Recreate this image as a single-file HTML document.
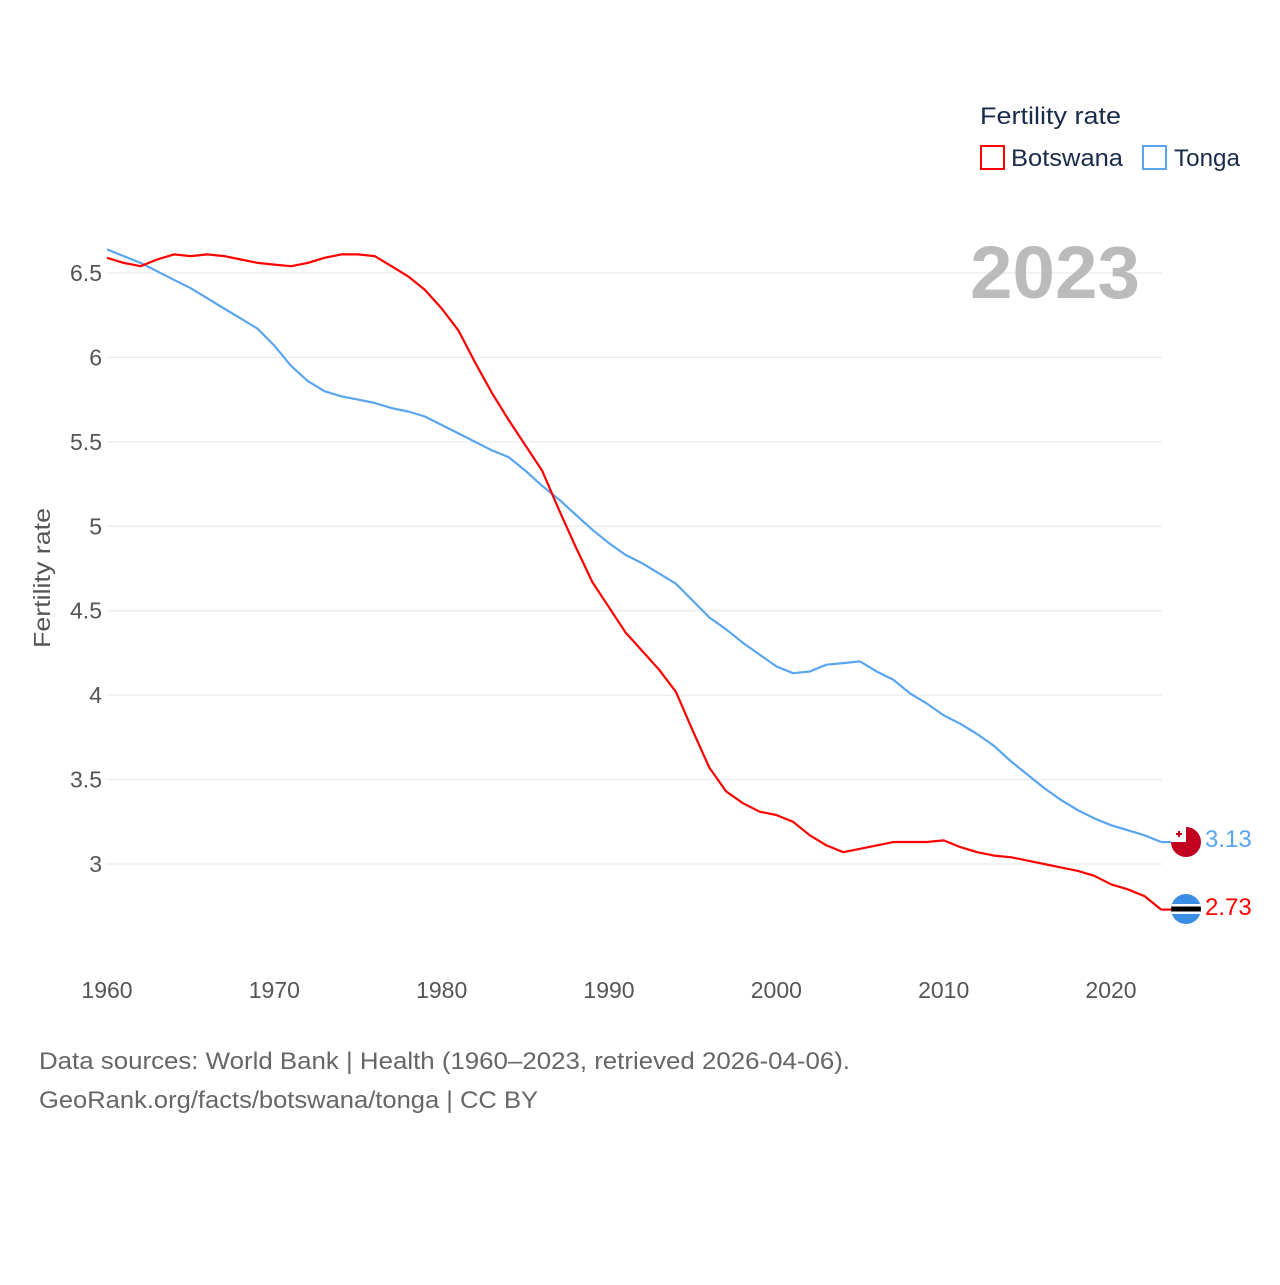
<!DOCTYPE html>
<html><head><meta charset="utf-8">
<style>
body{margin:0;background:#fff;font-family:"Liberation Sans",sans-serif;}
svg text{font-family:"Liberation Sans",sans-serif;}
</style></head>
<body>
<svg id="chart" width="1280" height="1280" viewBox="0 0 1280 1280" xmlns="http://www.w3.org/2000/svg">
<rect width="1280" height="1280" fill="#fff"/>
<g id="grid"></g>
<g id="yticks"></g>
<g id="xticks"></g>
<text transform="translate(50,578) rotate(-90)" text-anchor="middle" font-size="23" fill="#555" textLength="140" lengthAdjust="spacingAndGlyphs">Fertility rate</text>
<text x="1140" y="298" text-anchor="end" font-size="74" font-weight="bold" fill="#bbb" textLength="170" lengthAdjust="spacingAndGlyphs">2023</text>
<text x="980" y="124" font-size="24" fill="#1a2b4a" textLength="141" lengthAdjust="spacingAndGlyphs">Fertility rate</text>
<g>
<rect x="981" y="146" width="23" height="23" fill="none" stroke="#f00" stroke-width="2"/>
<text x="1011" y="166" font-size="24" fill="#1a2b4a" textLength="112" lengthAdjust="spacingAndGlyphs">Botswana</text></g>
<g>
<rect x="1143" y="146" width="23" height="23" fill="none" stroke="#5aa5ef" stroke-width="2"/>
<text x="1174" y="166" font-size="24" fill="#1a2b4a" textLength="66" lengthAdjust="spacingAndGlyphs">Tonga</text></g>
<g id="series"></g>
<g>
<circle cx="1186" cy="842" r="15" fill="#c10020"/>
<rect x="1171" y="827" width="15" height="15" fill="#fff"/>
<rect x="1176" y="833" width="6" height="2" fill="#c10020"/><rect x="1178" y="831" width="2" height="6" fill="#c10020"/>
</g>
<g>
<clipPath id="bc"><circle cx="1186" cy="909" r="15"/></clipPath>
<g clip-path="url(#bc)"><rect x="1170" y="893" width="32" height="32" fill="#3a8ee6"/>
<rect x="1170" y="904" width="32" height="10" fill="#fff"/><rect x="1170" y="906.5" width="32" height="5" fill="#000"/></g>
</g>
<text id="lblT" x="1205" y="847" font-size="24" fill="#5aa5ef">3.13</text>
<text id="lblB" x="1205" y="915" font-size="24" fill="#f00">2.73</text>
<text x="39" y="1069" font-size="24" fill="#666" textLength="811" lengthAdjust="spacingAndGlyphs">Data sources: World Bank | Health (1960–2023, retrieved 2026-04-06).</text>
<text x="39" y="1108" font-size="24" fill="#666" textLength="499" lengthAdjust="spacingAndGlyphs">GeoRank.org/facts/botswana/tonga | CC BY</text>
</svg>
<script>
const years=[];for(let y=1960;y<=2023;y++)years.push(y);
const botswana=[6.59,6.56,6.54,6.58,6.61,6.60,6.61,6.60,6.58,6.56,6.55,6.54,6.56,6.59,6.61,6.61,6.60,6.54,6.48,6.40,6.29,6.16,5.97,5.79,5.63,5.48,5.33,5.10,4.88,4.67,4.52,4.37,4.26,4.15,4.02,3.79,3.57,3.43,3.36,3.31,3.29,3.25,3.17,3.11,3.07,3.09,3.11,3.13,3.13,3.13,3.14,3.10,3.07,3.05,3.04,3.02,3.00,2.98,2.96,2.93,2.88,2.85,2.81,2.73];
const tonga=[6.64,6.60,6.56,6.51,6.46,6.41,6.35,6.29,6.23,6.17,6.07,5.95,5.86,5.80,5.77,5.75,5.73,5.70,5.68,5.65,5.60,5.55,5.50,5.45,5.41,5.33,5.24,5.16,5.07,4.98,4.90,4.83,4.78,4.72,4.66,4.56,4.46,4.39,4.31,4.24,4.17,4.13,4.14,4.18,4.19,4.20,4.14,4.09,4.01,3.95,3.88,3.83,3.77,3.70,3.61,3.53,3.45,3.38,3.32,3.27,3.23,3.20,3.17,3.13];
const yTicks=[3,3.5,4,4.5,5,5.5,6,6.5];
const yTickLabels=["3","3.5","4","4.5","5","5.5","6","6.5"];
const xTicks=[1960,1970,1980,1990,2000,2010,2020];
const NS="http://www.w3.org/2000/svg";
const xs=y=>107+(y-1960)*(1111-107)/60;
const ys=v=>864-(v-3)*(864-273)/3.5;
function mk(t,a,p){const e=document.createElementNS(NS,t);for(const k in a)e.setAttribute(k,a[k]);p.appendChild(e);return e;}
const grid=document.getElementById('grid'),yt=document.getElementById('yticks'),xt=document.getElementById('xticks'),ser=document.getElementById('series');
yTicks.forEach((v,i)=>{
 const l=mk('line',{x1:107,x2:1162,y1:ys(v),y2:ys(v),stroke:'#e6e6e6','stroke-width':1},grid);
 
 
 const t=mk('text',{x:102,y:ys(v)+8,'text-anchor':'end','font-size':23,fill:'#555'},yt);
 t.textContent=yTickLabels[i];
 
 
});
xTicks.forEach(y=>{
 const t=mk('text',{x:xs(y),y:998,'text-anchor':'middle','font-size':23,fill:'#555'},xt);
 t.textContent=y;
 
 
});
function line(vals,color,name){
 const d=vals.map((v,i)=>(i?'L':'M')+xs(years[i]).toFixed(1)+' '+ys(v).toFixed(1)).join(' ');
 const p=mk('path',{d:d,fill:'none',stroke:color,'stroke-width':2.2,'stroke-linejoin':'round'},ser);
 
 
 const last=vals[vals.length-1];
 mk('line',{x1:xs(2023),x2:1172,y1:ys(last),y2:ys(last),stroke:color,'stroke-width':2.2},ser);
}
line(tonga,'#5aa5ef','tonga-line');
line(botswana,'#f00','botswana-line');
</script>
</body></html>
